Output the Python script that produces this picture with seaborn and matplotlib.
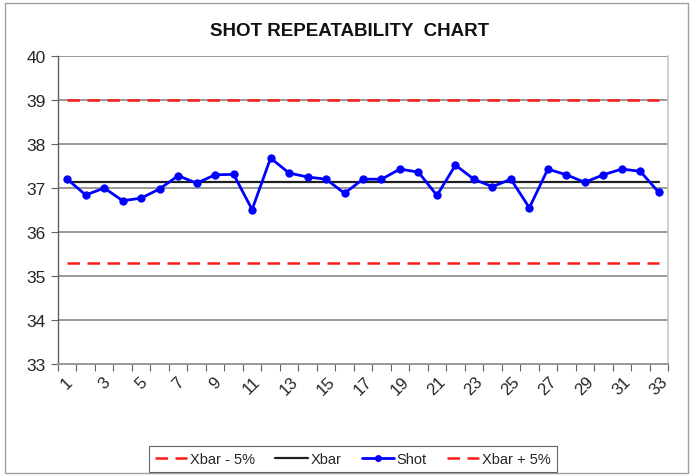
import numpy as np
import pandas as pd
import seaborn as sns
import matplotlib.pyplot as plt
from matplotlib.patches import Rectangle
from matplotlib.lines import Line2D
from matplotlib.ticker import FixedLocator

# shot readings
shot_no = list(range(1, 34))
shot = [37.20, 36.84, 37.00, 36.71, 36.77, 36.98, 37.28, 37.11, 37.30, 37.31,
        36.51, 37.68, 37.34, 37.25, 37.20, 36.88, 37.20, 37.20, 37.43, 37.36,
        36.83, 37.52, 37.20, 37.03, 37.20, 36.55, 37.43, 37.30, 37.13, 37.30,
        37.43, 37.38, 36.90]
xbar = float(np.mean(shot))
upper = xbar * 1.05
lower = xbar * 0.95
y_ticks = [33, 34, 35, 36, 37, 38, 39, 40]
x_labels = list(range(1, 34, 2))

df = pd.DataFrame({
    "Shot no": shot_no,
    "Shot": shot,
    "Xbar": [xbar] * len(shot_no),
    "Xbar - 5%": [lower] * len(shot_no),
    "Xbar + 5%": [upper] * len(shot_no),
})

sns.set_style("white")
plt.rcParams["font.family"] = ["Liberation Sans", "DejaVu Sans"]

fig = plt.figure(figsize=(6.92, 4.77), dpi=100)
ax = fig.add_axes([58 / 692, 1 - 365 / 477, 610 / 692, 308 / 477])

# outer chart border
fig.patches.append(Rectangle((5 / 692, 3 / 477), 683 / 692, 470 / 477,
                             transform=fig.transFigure, fill=False,
                             edgecolor="#a0a0a0", lw=1.0))

for v in y_ticks:
    ax.axhline(v, color="#9a9a9a", lw=1.4, zorder=0)

dash = (5, 3)
sns.lineplot(data=df, x="Shot no", y="Xbar - 5%", ax=ax, color="#ff1a1a",
             lw=1.8, linestyle=(0, dash), zorder=2)
sns.lineplot(data=df, x="Shot no", y="Xbar + 5%", ax=ax, color="#ff1a1a",
             lw=1.8, linestyle=(0, dash), zorder=2)
sns.lineplot(data=df, x="Shot no", y="Xbar", ax=ax, color="#202020",
             lw=1.6, zorder=3)
sns.lineplot(data=df, x="Shot no", y="Shot", ax=ax, color="#0000ff",
             lw=2.0, marker="o", markersize=6, markeredgewidth=0, zorder=4)

ax.set_xlim(0.5, 33.5)
ax.set_ylim(33, 40)
ax.set_yticks(y_ticks)
ax.set_yticklabels([str(v) for v in y_ticks], fontsize=12.5)
ax.set_xticks(x_labels)
ax.set_xticklabels([str(v) for v in x_labels], rotation=45, fontsize=12,
                   ha="center", va="top")
ax.xaxis.set_minor_locator(FixedLocator(np.arange(0.5, 34, 1.0)))
ax.tick_params(axis="x", which="major", length=0, pad=7)
ax.tick_params(axis="x", which="minor", length=5, width=0.8,
               color="#606060", bottom=True)
ax.tick_params(axis="y", length=5, width=0.8, color="#606060", left=True,
               pad=4)
ax.set_xlabel("")
ax.set_ylabel("")

ax.spines["top"].set_visible(False)
ax.spines["right"].set_color("#c8c8c8")
ax.spines["right"].set_linewidth(1.2)
ax.spines["left"].set_color("#606060")
ax.spines["left"].set_linewidth(1.0)
ax.spines["bottom"].set_color("#9a9a9a")
ax.spines["bottom"].set_linewidth(1.4)

fig.text(0.505, 1 - 31 / 477, "SHOT REPEATABILITY  CHART", ha="center",
         va="center", fontsize=13.5, fontweight="bold", color="#111111")

handles = [
    Line2D([], [], color="#ff1a1a", lw=1.8, linestyle=(0, dash)),
    Line2D([], [], color="#202020", lw=1.6),
    Line2D([], [], color="#0000ff", lw=2.0, marker="o", markersize=5,
           markeredgewidth=0),
    Line2D([], [], color="#ff1a1a", lw=1.8, linestyle=(0, dash)),
]
labels = ["Xbar - 5%", "Xbar", "Shot", "Xbar + 5%"]
if ax.get_legend():
    ax.get_legend().remove()
leg = fig.legend(handles, labels, loc="center", ncol=4,
                 bbox_to_anchor=(353 / 692, 1 - 460 / 477), frameon=True,
                 fontsize=10.5, handlelength=2.2, handletextpad=0.2,
                 columnspacing=1.4, borderpad=0.4, fancybox=False)
leg.get_frame().set_edgecolor("#404040")
leg.get_frame().set_linewidth(0.8)

fig.savefig("out.png", dpi=100)
